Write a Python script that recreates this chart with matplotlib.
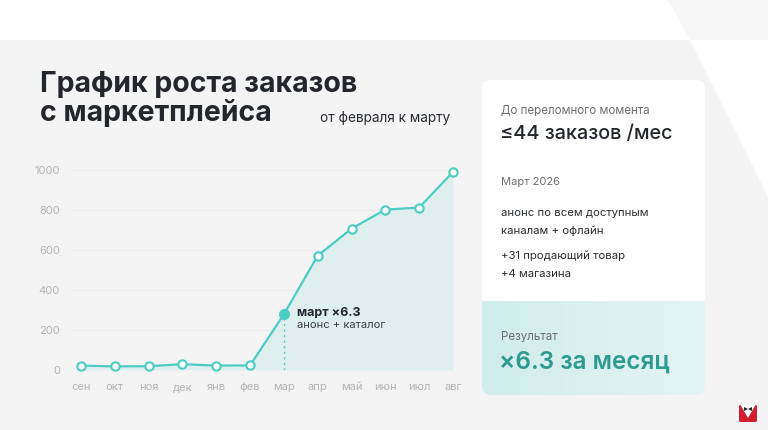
import matplotlib.pyplot as plt
from matplotlib.patches import Polygon, FancyBboxPatch
from matplotlib.colors import LinearSegmentedColormap
import numpy as np

plt.rcParams['font.family'] = ['Inter', 'DejaVu Sans']

# data
months = ['сен', 'окт', 'ноя', 'дек', 'янв', 'фев', 'мар', 'апр', 'май', 'июн', 'июл', 'авг']
orders = [22, 18, 19, 29, 22, 23, 278, 570, 705, 800, 810, 988]
yticks = [0, 200, 400, 600, 800, 1000]
peak_idx = 6

teal = '#4ccdc4'
bg_gray = '#f4f4f4'

fig = plt.figure(figsize=(7.68, 4.3), dpi=100)
fig.patch.set_facecolor('white')

# background layer in pixel coordinates
bg = fig.add_axes([0, 0, 1, 1])
bg.axis('off')

# gray panel below the top band, cut by the diagonal
bg.add_patch(Polygon([(0, 40), (690, 40), (768, 197), (768, 430), (0, 430)],
                     closed=True, facecolor=bg_gray, edgecolor='none'))
# gray strip above, right of the diagonal
bg.add_patch(Polygon([(668, 0), (768, 0), (768, 40), (690, 40)],
                     closed=True, facecolor='#f6f6f6', edgecolor='none'))

# title
bg.text(40, 84, 'График роста заказов', fontsize=20.5, fontweight='bold',
        color='#23262b', va='center')
bg.text(40, 113, 'с маркетплейса', fontsize=20.5, fontweight='bold',
        color='#23262b', va='center')
bg.text(320, 118, 'от февраля к марту', fontsize=9.8, color='#2a2d31', va='center')

# right card
bg.add_patch(FancyBboxPatch((482, 80), 223, 315,
                            boxstyle='round,pad=0,rounding_size=9',
                            facecolor='white', edgecolor='none'))
# result block with gradient, square top and rounded bottom
grad = np.linspace(0, 1, 256).reshape(1, -1)
img = bg.imshow(grad, extent=(482, 705, 395, 301),
                cmap=LinearSegmentedColormap.from_list('g', ['#d0edeb', '#e3f4f3']),
                aspect='auto', zorder=2)
clip = FancyBboxPatch((482, 280), 223, 115, boxstyle='round,pad=0,rounding_size=9',
                      facecolor='none', edgecolor='none', transform=bg.transData)
img.set_clip_path(clip)
bg.set_xlim(0, 768)
bg.set_ylim(430, 0)

bg.text(501, 111, 'До переломного момента', fontsize=8.3, color='#6b6e72', va='center')
bg.text(500, 134, '≤44 заказов /мес', fontsize=14.3, fontweight='medium',
        color='#23262b', va='center')
bg.text(501, 182, 'Март 2026', fontsize=8, color='#6b6e72', va='center')
bg.text(501, 213, 'анонс по всем доступным', fontsize=8.2, color='#2a2d31', va='center')
bg.text(501, 231, 'каналам + офлайн', fontsize=8.2, color='#2a2d31', va='center')
bg.text(501, 256, '+31 продающий товар', fontsize=8.2, color='#2a2d31', va='center')
bg.text(501, 274, '+4 магазина', fontsize=8.2, color='#2a2d31', va='center')
bg.text(501, 337, 'Результат', fontsize=8.3, color='#6b6e72', va='center', zorder=3)
bg.text(499, 362, '×6.3 за месяц', fontsize=17.5, fontweight='semibold',
        color='#2f9a8f', va='center', zorder=3)

# logo
bg.add_patch(FancyBboxPatch((739, 405), 18, 17, boxstyle='round,pad=0,rounding_size=1.5',
                            facecolor='#d0202e', edgecolor='none'))
bg.add_patch(Polygon([(740.5, 405), (755.5, 405), (748, 418)], closed=True,
                     facecolor='white', edgecolor='none'))
bg.add_patch(Polygon([(744, 407), (744, 411), (748, 409)], closed=True, facecolor='#222'))
bg.add_patch(Polygon([(752, 407), (752, 411), (748, 409)], closed=True, facecolor='#222'))

# chart
ax = fig.add_axes([72.5 / 768, (430 - 370) / 430, 380.5 / 768, 200.5 / 430])
ax.set_facecolor('none')
x = np.arange(len(months))
ax.fill_between(x, orders, 0, color='#dcefee', alpha=0.85, linewidth=0)
ax.plot(x, orders, color=teal, linewidth=1.6, zorder=3)
ax.plot([i for i in x if i != peak_idx], [v for i, v in enumerate(orders) if i != peak_idx],
        linestyle='none', marker='o', markersize=6, markerfacecolor='white',
        markeredgecolor=teal, markeredgewidth=1.5, zorder=4, clip_on=False)
ax.plot([peak_idx], [orders[peak_idx]], linestyle='none', marker='o', markersize=7,
        color=teal, zorder=5)
ax.plot([peak_idx, peak_idx], [0, orders[peak_idx]], color=teal, linestyle=(0, (1.5, 2.5)),
        linewidth=1, zorder=2)
ax.text(peak_idx + 0.38, orders[peak_idx] + 8, 'март ×6.3', fontsize=9, fontweight='bold',
        color='#23262b', va='center')
ax.text(peak_idx + 0.38, orders[peak_idx] - 52, 'анонс + каталог', fontsize=8,
        color='#3a3d41', va='center')

ax.set_xlim(-0.25, 11)
ax.set_ylim(0, 1000)
ax.set_xticks(x)
ax.set_xticklabels(months)
ax.set_yticks(yticks)
ax.set_yticklabels([str(v) for v in yticks])
ax.tick_params(length=0, labelsize=8, colors='#b3b3b3')
ax.tick_params(axis='y', pad=9)
ax.tick_params(axis='x', pad=9)
ax.grid(axis='y', color='#e9e9e9', linewidth=0.8)
ax.set_axisbelow(True)
for s in ax.spines.values():
    s.set_visible(False)

fig.savefig('out.png', dpi=100, facecolor=fig.get_facecolor())
